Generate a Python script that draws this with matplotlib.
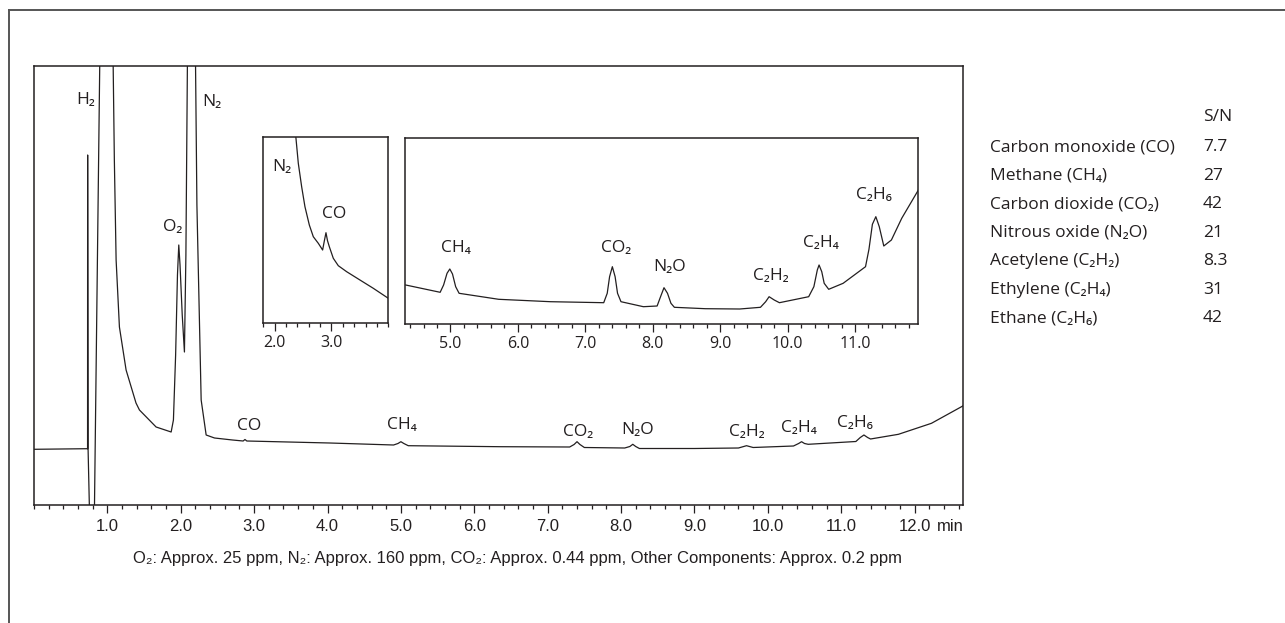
import numpy as np
import matplotlib.pyplot as plt
from matplotlib.lines import Line2D
from matplotlib.ticker import MultipleLocator, FixedLocator

W, H = 1285, 623
INK = "#231f20"
LABEL_FONT = ["Open Sans", "Noto Sans", "DejaVu Sans"]
NARROW_FONT = ["Liberation Sans Narrow", "Liberation Sans", "DejaVu Sans"]

# main chromatogram: retention time (min) and detector signal (arb.)
main_t = [0.0, 0.73, 0.731, 0.737, 0.80, 0.93, 1.0, 1.095, 1.119, 1.164, 1.255, 1.39,
          1.437, 1.664, 1.869, 1.90, 1.93, 1.955, 1.973, 1.99, 2.02, 2.05, 2.07, 2.14,
          2.22, 2.278, 2.346, 2.46, 2.705, 2.85, 2.875, 2.90, 4.03, 4.90, 4.96, 5.0,
          5.04, 5.1, 6.35, 7.30, 7.36, 7.40, 7.44, 7.5, 8.05, 8.12, 8.16, 8.20, 8.25,
          9.0, 9.6, 9.71, 9.8, 10.35, 10.42, 10.46, 10.50, 10.55, 11.2, 11.26, 11.31,
          11.36, 11.4, 11.78, 12.23, 12.64, 12.70]
main_s = [55.7, 56.3, 350, 56, -150, 650, 900, 345, 245, 178, 135, 102,
          95, 78, 73, 85, 150, 230, 260, 240, 190, 153, 250, 900,
          300, 105, 70, 67, 65, 64, 65.5, 64, 62, 60, 61.5, 63.3,
          61.5, 59.3, 58.3, 58, 60.5, 63.3, 60.5, 57.5, 57, 58.5, 60.7, 58.5, 56.5,
          56.5, 57, 59.3, 57.5, 59, 61.5, 63.3, 61.5, 60.7, 63.5, 67.5, 70,
          67.5, 66, 70.7, 81.7, 98.3, 101]

# inset 1 (N2 tail / CO)
ins1_t = [2.33, 2.375, 2.416, 2.475, 2.533, 2.61, 2.68, 2.768, 2.844, 2.875, 2.903,
          2.93, 2.962, 3.032, 3.12, 3.267, 3.501, 3.736, 4.0]
ins1_s = [210, 184.4, 159.4, 136, 116, 97.7, 86, 79.4, 72.7, 82, 90,
          82, 76, 64.4, 57, 51, 42.7, 34.4, 24.4]

# inset 2 (CH4 ... C2H6)
ins2_t = [4.336, 4.847, 4.898, 4.949, 4.99, 5.03, 5.077, 5.128, 5.715, 6.482, 7.273,
          7.325, 7.36, 7.401, 7.442, 7.478, 7.529, 7.861, 8.065, 8.116, 8.167, 8.219,
          8.27, 8.321, 8.78, 9.29, 9.598, 9.675, 9.726, 9.802, 9.879, 10.313, 10.39,
          10.441, 10.467, 10.507, 10.543, 10.61, 10.824, 11.156, 11.207, 11.258,
          11.309, 11.36, 11.427, 11.54, 11.693, 11.94]
ins2_s = [39.3, 32, 39.3, 51, 55.3, 50.3, 37.6, 31, 25, 22.6, 21.6,
          31, 47.6, 57.6, 47.6, 31, 22.6, 17.6, 18.3, 27.6, 36.6, 31,
          21, 17, 15.6, 15.3, 17, 22.6, 27.6, 24.3, 21.6, 27.6, 37.6,
          54.3, 59.3, 52.6, 41, 35, 41, 57.6, 75, 100,
          107.6, 97.6, 78.3, 84.3, 106, 134.3]

main_labels = [("H₂", 0.71, 405), ("N₂", 2.43, 403), ("O₂", 1.89, 278), ("CO", 2.93, 79),
               ("CH₄", 5.02, 80), ("CO₂", 7.41, 73), ("N₂O", 8.23, 75),
               ("C₂H₂", 9.71, 73), ("C₂H₄", 10.42, 77), ("C₂H₆", 11.19, 82)]
ins1_labels = [("N₂", 2.13, 156), ("CO", 3.05, 109)]
ins2_labels = [("CH₄", 5.077, 76), ("CO₂", 7.452, 76), ("N₂O", 8.244, 57.6),
               ("C₂H₂", 9.751, 48.6), ("C₂H₄", 10.49, 81), ("C₂H₆", 11.284, 129)]

components = ["Carbon monoxide (CO)", "Methane (CH₄)", "Carbon dioxide (CO₂)",
              "Nitrous oxide (N₂O)", "Acetylene (C₂H₂)", "Ethylene (C₂H₄)", "Ethane (C₂H₆)"]
sn_values = ["7.7", "27", "42", "21", "8.3", "31", "42"]

caption = ("O₂: Approx. 25 ppm, N₂: Approx. 160 ppm, CO₂: Approx. 0.44 ppm, "
           "Other Components: Approx. 0.2 ppm")


def px_axes(fig, left, top, right, bottom):
    return fig.add_axes([left / W, 1 - bottom / H, (right - left) / W, (bottom - top) / H])


def style(ax, lw=1.1):
    for sp in ax.spines.values():
        sp.set_color(INK)
        sp.set_linewidth(lw)
    ax.set_yticks([])
    ax.tick_params(axis="x", which="both", direction="out", color=INK, width=0.9,
                   top=False)


fig = plt.figure(figsize=(W / 100, H / 100), dpi=100)

# outer frame (only top and left edges visible)
fig.add_artist(Line2D([9 / W, 1.0], [1 - 10 / H, 1 - 10 / H], color="#555555", lw=1.4))
fig.add_artist(Line2D([9 / W, 9 / W], [0, 1 - 10 / H], color="#555555", lw=1.4))

# main axes
ax = px_axes(fig, 34, 66, 963, 505)
ax.plot(main_t, main_s, color=INK, lw=0.9)
ax.set_xlim(0, 12.66)
ax.set_ylim(0, 439)
style(ax)
ax.xaxis.set_major_locator(FixedLocator(np.arange(1, 13)))
ax.xaxis.set_minor_locator(MultipleLocator(0.2))
ax.set_xticklabels([f"{v:.1f}" for v in range(1, 13)], family=NARROW_FONT, fontsize=12,
                   color=INK)
ax.tick_params(axis="x", which="major", length=6, pad=4)
ax.tick_params(axis="x", which="minor", length=3)
ax.text(12.3, -0.031, "min", transform=ax.get_xaxis_transform(), family=NARROW_FONT,
        fontsize=12, color=INK, ha="left", va="top")
for txt, x, y in main_labels:
    ax.text(x, y, txt, family=LABEL_FONT, fontsize=12.5, color=INK, ha="center", va="center")

# inset 1
a1 = px_axes(fig, 263.3, 137.3, 388.3, 322.7)
a1.plot(ins1_t, ins1_s, color=INK, lw=0.9)
a1.set_xlim(1.8, 4.0)
a1.set_ylim(0, 185.4)
style(a1)
a1.xaxis.set_major_locator(FixedLocator([2.0, 3.0]))
a1.xaxis.set_minor_locator(MultipleLocator(0.2))
a1.set_xticklabels(["2.0", "3.0"], family=LABEL_FONT, fontsize=11.5, color=INK)
a1.tick_params(axis="x", which="major", length=5.5, pad=3)
a1.tick_params(axis="x", which="minor", length=2.7)
for txt, x, y in ins1_labels:
    a1.text(x, y, txt, family=LABEL_FONT, fontsize=12.5, color=INK, ha="center", va="center")

# inset 2
a2 = px_axes(fig, 405.3, 138.3, 917.7, 324.3)
a2.plot(ins2_t, ins2_s, color=INK, lw=0.9)
a2.set_xlim(4.33, 11.93)
a2.set_ylim(0, 186)
style(a2)
a2.xaxis.set_major_locator(FixedLocator(np.arange(5, 12)))
a2.xaxis.set_minor_locator(MultipleLocator(0.2))
a2.set_xticklabels([f"{v:.1f}" for v in range(5, 12)], family=LABEL_FONT, fontsize=11.5,
                   color=INK)
a2.tick_params(axis="x", which="major", length=5.5, pad=3)
a2.tick_params(axis="x", which="minor", length=2.7)
for txt, x, y in ins2_labels:
    a2.text(x, y, txt, family=LABEL_FONT, fontsize=12.5, color=INK, ha="center", va="center")

# S/N table
fig.text(1203 / W, 1 - 116.7 / H, "S/N", family=LABEL_FONT, fontsize=12.5, color=INK,
         ha="left", va="center")
for i, (name, val) in enumerate(zip(components, sn_values)):
    yy = 147.3 + i * 28.5
    fig.text(990 / W, 1 - yy / H, name, family=LABEL_FONT, fontsize=12.5, color=INK,
             ha="left", va="center")
    fig.text(1203 / W, 1 - yy / H, val, family=LABEL_FONT, fontsize=12.5, color=INK,
             ha="left", va="center")

fig.text(133 / W, 1 - 558 / H, caption, family=NARROW_FONT, fontsize=12, color=INK,
         ha="left", va="center")

fig.savefig("out.png", dpi=100)
